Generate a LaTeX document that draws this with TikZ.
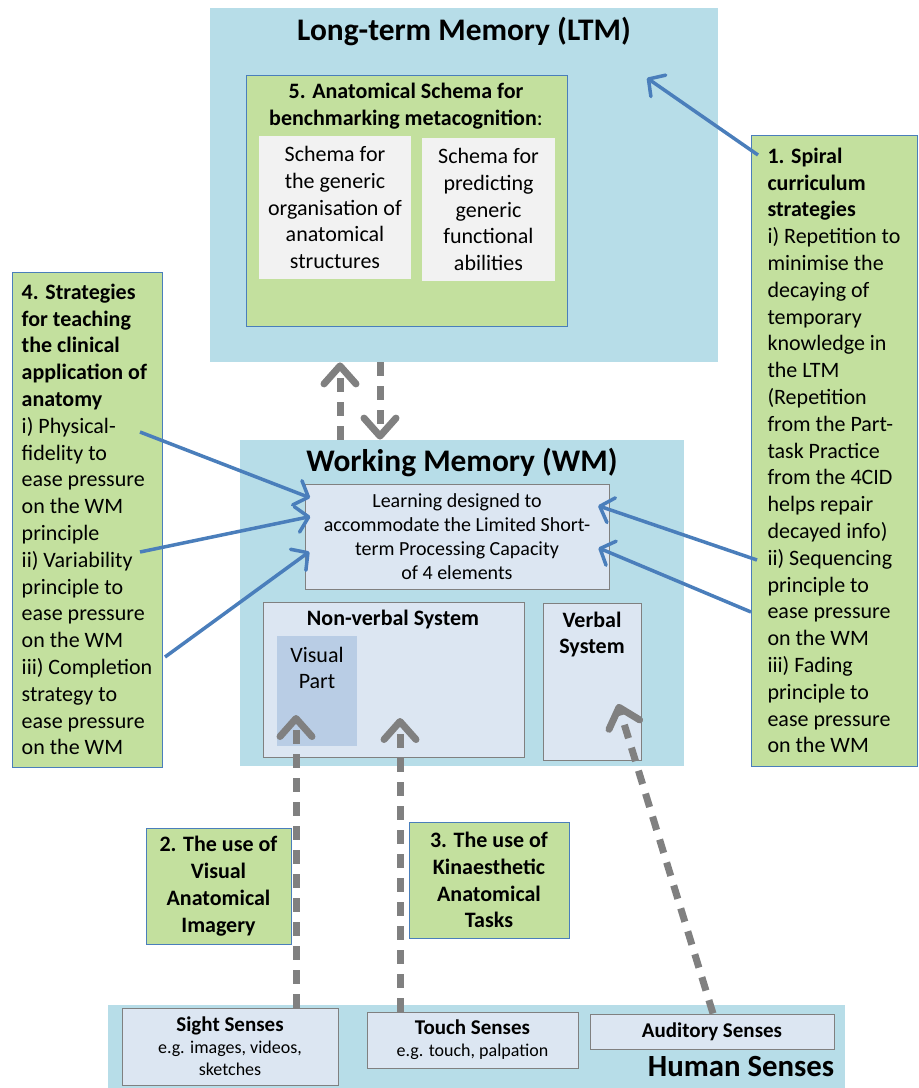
\documentclass[tikz,border=0pt]{standalone}
\usepackage{fontspec}
\setmainfont{Carlito}
\usetikzlibrary{arrows.meta}

\definecolor{memblue}{HTML}{B7DDE8}
\definecolor{stratgreen}{HTML}{C3E09E}
\definecolor{paleblue}{HTML}{DCE6F2}
\definecolor{partblue}{HTML}{B9CDE5}
\definecolor{schemagray}{HTML}{F2F2F2}
\definecolor{linkblue}{HTML}{4A7EBB}
\definecolor{framegray}{HTML}{808080}

\newcommand{\bodysize}{\fontsize{11}{13.4}\selectfont}
\newcommand{\smallsize}{\fontsize{9}{11}\selectfont}
\newcommand{\sensename}[1]{{\fontsize{10.5}{11}\selectfont\bfseries #1}}

\tikzset{
  memory/.style={fill=memblue, inner sep=0pt},
  strategy/.style={draw=linkblue, line width=0.5pt, fill=stratgreen, inner sep=0pt, font=\bodysize},
  schemabox/.style={fill=schemagray, inner sep=0pt, align=center, font=\bodysize},
  system/.style={draw=framegray, line width=0.5pt, fill=paleblue, inner sep=0pt},
  heading/.style={font={\fontsize{15.7}{18}\selectfont\bfseries}},
  systitle/.style={font={\fontsize{11}{13}\selectfont\bfseries}},
  recall/.style={draw=framegray, line width=3.5pt, dash pattern=on 7pt off 5pt,
    -{Straight Barb[length=9pt,width=16pt,round]}},
  link/.style={draw=linkblue, line width=1.75pt, -{Straight Barb[length=6pt,width=13pt,round]}}
}

\begin{document}
\begin{tikzpicture}[x=0.5pt,y=-0.5pt]
  \useasboundingbox (0,0) rectangle (918,1088);

  % long-term memory
  \node[memory, minimum width=254pt, minimum height=177pt] (ltm) at (464,185) {};
  \node[heading] (ltmtitle) at (464,32) {Long-term Memory (LTM)};
  \node[strategy, minimum width=160.5pt, minimum height=125.5pt] (schema) at (406.5,200.5) {};
  \node[font={\bodysize\bfseries}, align=center] (schematitle) at (406,106)
    {5. Anatomical Schema for\\benchmarking metacognition\mdseries:};
  \node[schemabox, minimum width=76pt, minimum height=71.5pt] (organise) at (335,207.5)
    {Schema for\\the generic\\organisation of\\anatomical\\structures};
  \node[schemabox, minimum width=66.5pt, minimum height=71.5pt] (predict) at (488.5,209.5)
    {Schema for\\predicting\\generic\\functional\\abilities};

  % working memory
  \node[memory, minimum width=222pt, minimum height=163pt] (wm) at (462,603) {};
  \node[heading] (wmtitle) at (462,463) {Working Memory (WM)};
  \node[system, minimum width=152pt, minimum height=52.5pt, align=center,
    font={\fontsize{10}{12}\selectfont}] (learn) at (457,536.5)
    {Learning designed to\\accommodate the Limited Short-\\term Processing Capacity\\of 4 elements};
  \node[system, minimum width=130.5pt, minimum height=77.5pt] (nonverbal) at (393.5,679.5) {};
  \node[systitle] (nonverbaltitle) at (393,620) {Non-verbal System};
  \node[fill=partblue, inner sep=0pt, minimum width=40pt, minimum height=55pt] (visual) at (317,691) {};
  \node[font=\bodysize, align=center] (visualtitle) at (317,668) {Visual\\Part};
  \node[system, minimum width=49pt, minimum height=78.5pt] (verbal) at (592,681.5) {};
  \node[systitle, align=center] (verbaltitle) at (592,635) {Verbal\\System};

  % strategies 4 and 1
  \node[strategy, align=left, minimum width=75pt, minimum height=247.5pt] (clinical) at (87,519.5)
    {\textbf{4. Strategies}\\\textbf{for teaching}\\\textbf{the clinical}\\\textbf{application of}\\\textbf{anatomy}\\
     i) Physical-\\fidelity to\\ease pressure\\on the WM\\principle\\ii) Variability\\principle to\\
     ease pressure\\on the WM\\iii) Completion\\strategy to\\ease pressure\\on the WM};
  \node[strategy, align=left, minimum width=83pt, minimum height=315.5pt] (spiral) at (834,450.5)
    {\textbf{1. Spiral}\\\textbf{curriculum}\\\textbf{strategies}\\i) Repetition to\\minimise the\\decaying of\\
     temporary\\knowledge in\\the LTM\\(Repetition\\from the Part-\\task Practice\\from the 4CID\\
     helps repair\\decayed info)\\ii) Sequencing\\principle to\\ease pressure\\on the WM\\iii) Fading\\
     principle to\\ease pressure\\on the WM};

  % strategies 2 and 3
  \node[strategy, align=center, font={\bodysize\bfseries}, minimum width=72.5pt, minimum height=58pt]
    (imagery) at (218.5,886) {2. The use of\\Visual\\Anatomical\\Imagery};
  \node[strategy, align=center, font={\bodysize\bfseries}, minimum width=80pt, minimum height=58pt]
    (kinaesthetic) at (489,880) {3. The use of\\Kinaesthetic\\Anatomical\\Tasks};

  % human senses
  \node[memory, minimum width=368.5pt, minimum height=43pt] (senses) at (476.5,1048) {};
  \node[font={\fontsize{15.4}{18}\selectfont\bfseries}] (sensestitle) at (741,1067) {Human Senses};
  \node[system, align=center, font=\smallsize, minimum width=108pt, minimum height=38.5pt]
    (sight) at (230,1046.5) {\sensename{Sight Senses}\\e.g. images, videos,\\sketches};
  \node[system, align=center, font=\smallsize, minimum width=105.5pt, minimum height=28pt]
    (touch) at (472.5,1040) {\sensename{Touch Senses}\\e.g. touch, palpation};
  \node[system, align=center, font=\smallsize, minimum width=122pt, minimum height=17.5pt]
    (auditory) at (712,1031.5) {\sensename{Auditory Senses}};

  % dashed routes between memories and senses
  \coordinate (upx) at (340,0);
  \coordinate (downx) at (380,0);
  \draw[recall] (wm.north -| upx) -- (ltm.south -| upx);
  \draw[recall] (ltm.south -| downx) -- (wm.north -| downx);
  \coordinate (sighttip) at (296,715);
  \coordinate (touchtip) at (400,718);
  \coordinate (audfoot) at (713,0);
  \coordinate (audtip) at (618,704);
  \draw[recall] (sight.north -| sighttip) -- (sighttip);
  \draw[recall] (touch.north -| touchtip) -- (touchtip);
  \draw[recall] (auditory.north -| audfoot) -- (audtip);

  % strategy links
  \coordinate (ltmtip) at (647,78);
  \coordinate (repeat) at (758,155);
  \coordinate (sequence) at (757,560);
  \coordinate (fading) at (751,612);
  \coordinate (fidelity) at (140,432);
  \coordinate (variability) at (140,552);
  \coordinate (completion) at (165,657);
  \draw[link] (repeat) -- (ltmtip);
  \draw[link, shorten >=-6pt] (sequence) -- (learn.10);
  \draw[link, shorten >=-6pt] (fading) -- (learn.354);
  \draw[link, shorten >=-3pt] (fidelity) -- (learn.165);
  \draw[link, shorten >=-3pt] (variability) -- (learn.173);
  \draw[link, shorten >=-3pt] (completion) -- (learn.187);
\end{tikzpicture}
\end{document}
